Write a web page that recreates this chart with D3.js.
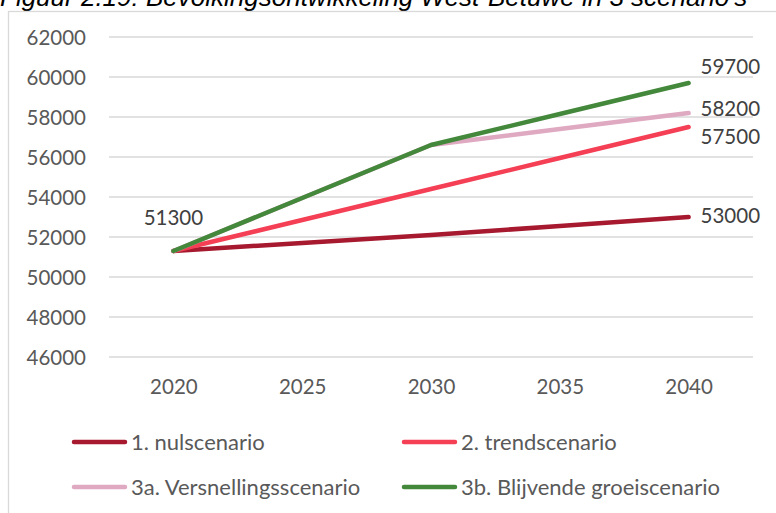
<!DOCTYPE html>
<meta charset="utf-8">
<style>
body { margin: 0; background: #fff; }
svg { display: block; }
.grid line { stroke: #d9d9d9; stroke-width: 1.3px; }
.axis text { font-family: Lato, "Open Sans", sans-serif; font-size: 20.5px; fill: #595959; }
.line { fill: none; stroke-width: 4.5px; stroke-linecap: round; stroke-linejoin: round; }
.lbl { font-family: Lato, "Open Sans", sans-serif; font-size: 20.5px; fill: #404040; }
.legend text { font-family: Lato, "Open Sans", sans-serif; font-size: 22px; fill: #595959; }
</style>
<body>
<svg width="776" height="513"></svg>
<script src="https://cdn.jsdelivr.net/npm/d3@7"></script>
<script>

var years = ["2020", "2025", "2030", "2035", "2040"];
var yTicks = [46000, 48000, 50000, 52000, 54000, 56000, 58000, 60000, 62000];

var names = ["1. nulscenario", "2. trendscenario", "3a. Versnellingsscenario", "3b. Blijvende groeiscenario"];
var nul   = [51300, 51700, 52100, 52550, 53000];
var trend = [51300, 52850, 54400, 55950, 57500];
var versn = [51300, 53950, 56600, 57400, 58200];
var blijv = [51300, 53950, 56600, 58150, 59700];
var colors = ["#a6192e", "#f43f55", "#dfa9c2", "#43883b"];

// label offsets next to the 2040 points
var endDy = [-1, 10, -4, -16];

var series = [nul, trend, versn, blijv];

var svg = d3.select("svg");

// title, mostly cut off at the top (as in the source)
svg.append("text")
    .attr("x", 0)
    .attr("y", 6)
    .attr("font-family", "Liberation Sans, Arial, sans-serif")
    .attr("font-style", "italic")
    .attr("font-size", "26px")
    .attr("fill", "#000")
    .text("Figuur 2.19: Bevolkingsontwikkeling West-Betuwe in 3 scenario's");

// chart border
svg.append("rect")
    .attr("x", 8.5)
    .attr("y", 11.5)
    .attr("width", 800)
    .attr("height", 520)
    .attr("fill", "none")
    .attr("stroke", "#d9d9d9")
    .attr("stroke-width", 1.3);

var left = 109, right = 753;
var band = (right - left) / years.length;

var x = d3.scalePoint().domain(years).range([left + band / 2, right - band / 2]);
var y = d3.scaleLinear().domain([46000, 62000]).range([357, 37]);

svg.append("g").attr("class", "grid")
  .selectAll("line").data(yTicks).enter().append("line")
    .attr("x1", left).attr("x2", right)
    .attr("y1", function(d) { return y(d); })
    .attr("y2", function(d) { return y(d); });

var yAxis = svg.append("g").attr("class", "axis")
    .attr("transform", "translate(" + (left - 23) + ",0)")
    .call(d3.axisLeft(y).tickValues(yTicks).tickSize(0).tickPadding(0).tickFormat(d3.format("d")));
yAxis.select(".domain").remove();
yAxis.selectAll("text").attr("dy", "0.35em");

var xAxis = svg.append("g").attr("class", "axis")
    .attr("transform", "translate(0,379)")
    .call(d3.axisBottom(x).tickSize(0).tickPadding(0));
xAxis.select(".domain").remove();
xAxis.selectAll("text").attr("dy", "0.75em");

var line = d3.line()
    .x(function(d, i) { return x(years[i]); })
    .y(function(d) { return y(d); });

series.forEach(function(s, i) {
  svg.append("path")
      .datum(s)
      .attr("class", "line")
      .attr("stroke", colors[i])
      .attr("d", line);
});

// start label
svg.append("text").attr("class", "lbl")
    .attr("x", x(years[0]))
    .attr("y", y(series[0][0]) - 33)
    .attr("dy", "0.35em")
    .attr("text-anchor", "middle")
    .text(series[0][0]);

// end labels
series.forEach(function(s, i) {
  var last = s[s.length - 1];
  svg.append("text").attr("class", "lbl")
      .attr("x", x(years[years.length - 1]) + 12)
      .attr("y", y(last) + endDy[i])
      .attr("dy", "0.35em")
      .text(last);
});

// legend
var legPos = [[74, 442], [404, 442], [74, 487], [404, 487]];
var legend = svg.append("g").attr("class", "legend");
names.forEach(function(n, i) {
  var g = legend.append("g").attr("transform", "translate(" + legPos[i][0] + "," + legPos[i][1] + ")");
  g.append("line")
      .attr("x1", 0).attr("x2", 51)
      .attr("stroke", colors[i])
      .attr("stroke-width", 4.5)
      .attr("stroke-linecap", "round");
  g.append("text")
      .attr("x", 57)
      .attr("dy", "0.35em")
      .text(n);
});

</script>
</body>
